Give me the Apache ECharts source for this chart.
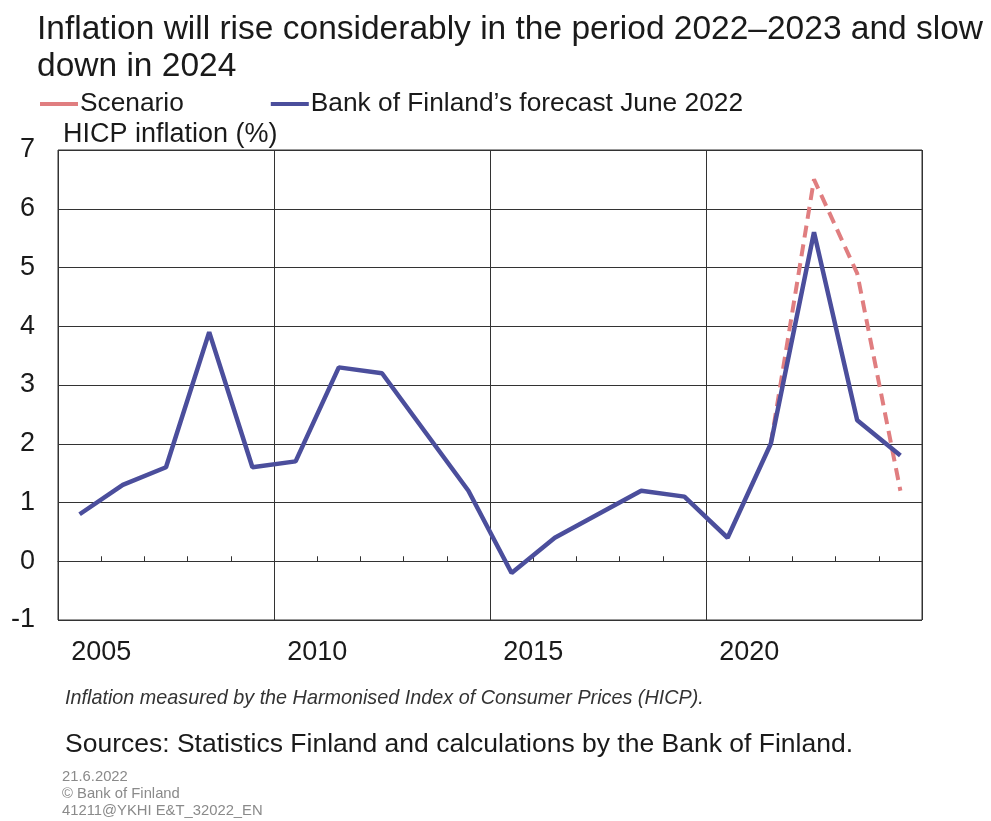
<!DOCTYPE html>
<html>
<head>
<meta charset="utf-8">
<script src="https://cdn.jsdelivr.net/npm/echarts@6/dist/echarts.min.js"></script>
<style>
html,body{margin:0;padding:0;background:#fff;}
#chart{width:991px;height:821px;}
</style>
</head>
<body>
<div id="chart"></div>
<script>
const years = ['2005','2006','2007','2008','2009','2010','2011','2012','2013','2014','2015','2016','2017','2018','2019','2020','2021','2022','2023','2024'];
const forecast = [0.8,1.3,1.6,3.9,1.6,1.7,3.3,3.2,2.2,1.2,-0.2,0.4,0.8,1.2,1.1,0.4,2.0,5.6,2.4,1.8];
const scenario = [null,null,null,null,null,null,null,null,null,null,null,null,null,null,null,null,2.0,6.5,4.9,1.2];
const yTicks = {min:-1, max:7, interval:1};
const FONT = '"Liberation Sans", Arial, sans-serif';

const chart = echarts.init(document.getElementById('chart'), null, {renderer:'canvas'});
const gridLeft = 58, gridRight = 69, gridW = 991 - gridLeft - gridRight;
const halfCat = gridW / years.length / 2;

chart.setOption({
  backgroundColor:'#fff',
  animation:false,
  textStyle:{fontFamily:FONT},
  title:[
    {text:'Inflation will rise considerably in the period 2022\u20132023 and slow\ndown in 2024', left:32, top:6,
     textStyle:{fontFamily:FONT, fontSize:33.5, fontWeight:'normal', color:'#1a1a1a', lineHeight:37}},
    {text:'HICP inflation (%)', left:58, top:116,
     textStyle:{fontFamily:FONT, fontSize:27, fontWeight:'normal', color:'#1a1a1a'}},
    {text:'Inflation measured by the Harmonised Index of Consumer Prices (HICP).', left:60, top:683,
     textStyle:{fontFamily:FONT, fontSize:19.8, fontStyle:'italic', fontWeight:'normal', color:'#333'}},
    {text:'Sources: Statistics Finland and calculations by the Bank of Finland.', left:60, top:726,
     textStyle:{fontFamily:FONT, fontSize:26.5, fontWeight:'normal', color:'#1a1a1a'}},
    {text:'21.6.2022\n\u00a9 Bank of Finland\n41211@YKHI E&T_32022_EN', left:57, top:763,
     textStyle:{fontFamily:FONT, fontSize:14.8, fontWeight:'normal', color:'#8a8a8a', lineHeight:17}}
  ],
  legend:{
    left:35, top:86, itemGap:87, itemWidth:38, itemHeight:4, icon:'rect',
    textStyle:{fontFamily:FONT, fontSize:26.3, color:'#1a1a1a', padding:[0,0,0,-3]},
    data:['Scenario','Bank of Finland\u2019s forecast June 2022']
  },
  grid:{left:gridLeft, right:gridRight, top:150, bottom:201, show:true, borderColor:'#333', borderWidth:1, containLabel:false},
  xAxis:[
    {type:'category', data:years, boundaryGap:true,
     axisLine:{show:true, onZero:true, lineStyle:{color:'#333', width:1}},
     axisTick:{show:true, inside:true, length:5, interval:0, lineStyle:{color:'#333'}},
     axisLabel:{show:false}, splitLine:{show:false}},
    {type:'category', data:years, boundaryGap:true, position:'bottom',
     axisLine:{show:false, onZero:false}, axisTick:{show:false},
     axisLabel:{show:true, interval:4, margin:19, fontFamily:FONT, fontSize:27, color:'#1a1a1a', padding:[0,0,0,halfCat*2]},
     splitLine:{show:true, interval:4, lineStyle:{color:'#333', width:1}}}
  ],
  yAxis:{type:'value', min:yTicks.min, max:yTicks.max, interval:yTicks.interval,
    axisLine:{show:false}, axisTick:{show:false},
    axisLabel:{margin:23, fontFamily:FONT, fontSize:27, color:'#1a1a1a'},
    splitLine:{show:true, lineStyle:{color:'#333', width:1}}},
  series:[
    {name:'Scenario', type:'line', xAxisIndex:0, data:scenario, symbol:'none', connectNulls:false,
     itemStyle:{color:'#E07E80'},
     lineStyle:{color:'#E07E80', width:4, type:[12,7]}},
    {name:'Bank of Finland\u2019s forecast June 2022', type:'line', xAxisIndex:0, data:forecast, symbol:'none',
     itemStyle:{color:'#4B4E9C'},
     lineStyle:{color:'#4B4E9C', width:4.5}}
  ]
});
</script>
</body>
</html>
